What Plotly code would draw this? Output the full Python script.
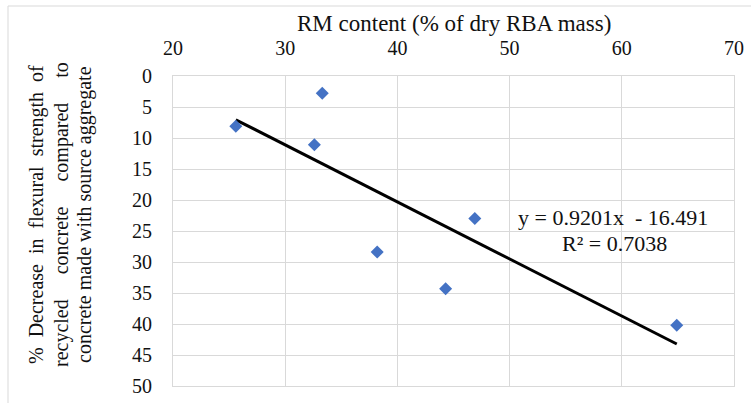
import plotly.graph_objects as go

# Data
rm_content = [25.6, 33.3, 32.6, 38.2, 46.9, 44.3, 64.9]
flexural_decrease = [8.1, 2.8, 11.1, 28.4, 23.0, 34.3, 40.2]

# Trendline coefficients (as printed on the chart)
slope = 0.9201
intercept = -16.491
r_squared = 0.7038

x_ticks = [20, 30, 40, 50, 60, 70]
y_ticks = [0, 5, 10, 15, 20, 25, 30, 35, 40, 45, 50]

x_title = "RM content (% of dry RBA mass)"
y_title_lines = [
    "% Decrease in flexural strength of",
    "recycled concrete compared to",
    "concrete made with source aggregate",
]

FONT = "Liberation Serif, Times New Roman, serif"
GRID = "#d9d9d9"
TXT = "#111111"

x_lo, x_hi = min(rm_content), max(rm_content)
trend_x = [x_lo, x_hi]
trend_y = [slope * v + intercept for v in trend_x]

fig = go.Figure()
fig.add_trace(go.Scatter(
    x=trend_x, y=trend_y, mode="lines",
    line=dict(color="black", width=3), hoverinfo="skip", showlegend=False,
))
fig.add_trace(go.Scatter(
    x=rm_content, y=flexural_decrease, mode="markers",
    marker=dict(symbol="diamond", size=10, color="#4472C4"),
    showlegend=False,
))

W, H = 751, 403
L, R, T, B = 173, 734, 76, 386
pw, ph = R - L, B - T


def px_x(px):
    return (px - L) / pw


def px_y(py):
    return (B - py) / ph


fig.update_layout(
    width=W, height=H,
    margin=dict(l=L, r=W - R, t=T, b=H - B, autoexpand=False),
    paper_bgcolor="white", plot_bgcolor="white",
    font=dict(family=FONT, color=TXT),
    xaxis=dict(
        side="top", range=[20, 70], tickvals=x_ticks, automargin=False,
        showgrid=True, gridcolor=GRID, gridwidth=1,
        showline=True, linecolor=GRID, linewidth=1, mirror=True,
        zeroline=False, ticks="", ticklabelstandoff=12,
        tickfont=dict(size=20, family=FONT, color=TXT),
    ),
    yaxis=dict(
        range=[50, 0], tickvals=y_ticks, automargin=False,
        showgrid=True, gridcolor=GRID, gridwidth=1,
        showline=True, linecolor=GRID, linewidth=1, mirror=True,
        zeroline=False, ticks="", ticklabelstandoff=16,
        tickfont=dict(size=20, family=FONT, color=TXT),
    ),
    shapes=[dict(
        type="rect", xref="paper", yref="paper",
        x0=px_x(8), x1=px_x(760), y0=px_y(410), y1=px_y(6),
        line=dict(color=GRID, width=1), fillcolor="rgba(0,0,0,0)", layer="below",
    )],
)

annotations = [
    dict(text=x_title, x=0.5, y=px_y(23), xref="paper", yref="paper",
         showarrow=False, xanchor="center", yanchor="middle",
         font=dict(size=23, family=FONT, color=TXT)),
    dict(text=f"y = {slope}x  - {abs(intercept)}", x=px_x(613), y=px_y(217),
         xref="paper", yref="paper", showarrow=False, xanchor="center", yanchor="middle",
         font=dict(size=22, family=FONT, color=TXT)),
    dict(text=f"R² = {r_squared}", x=px_x(614), y=px_y(243),
         xref="paper", yref="paper", showarrow=False, xanchor="center", yanchor="middle",
         font=dict(size=22, family=FONT, color=TXT)),
]

# Justified-looking y-axis title lines (extra non-breaking spaces)
gaps = ["\u00a0\u00a0", "\u00a0" * 5, " "]
line_x = [36, 61, 84]
for text, gap, lx in zip(y_title_lines, gaps, line_x):
    annotations.append(dict(
        text=gap.join(text.split(" ")), x=px_x(lx), y=px_y(215),
        xref="paper", yref="paper", showarrow=False, textangle=-90,
        xanchor="center", yanchor="middle",
        font=dict(size=20, family=FONT, color=TXT),
    ))

fig.update_layout(annotations=annotations)
fig.write_html(
    "out.html",
    config={"displayModeBar": False},
    post_script="document.body.style.margin='0';document.body.style.overflow='hidden';",
)
